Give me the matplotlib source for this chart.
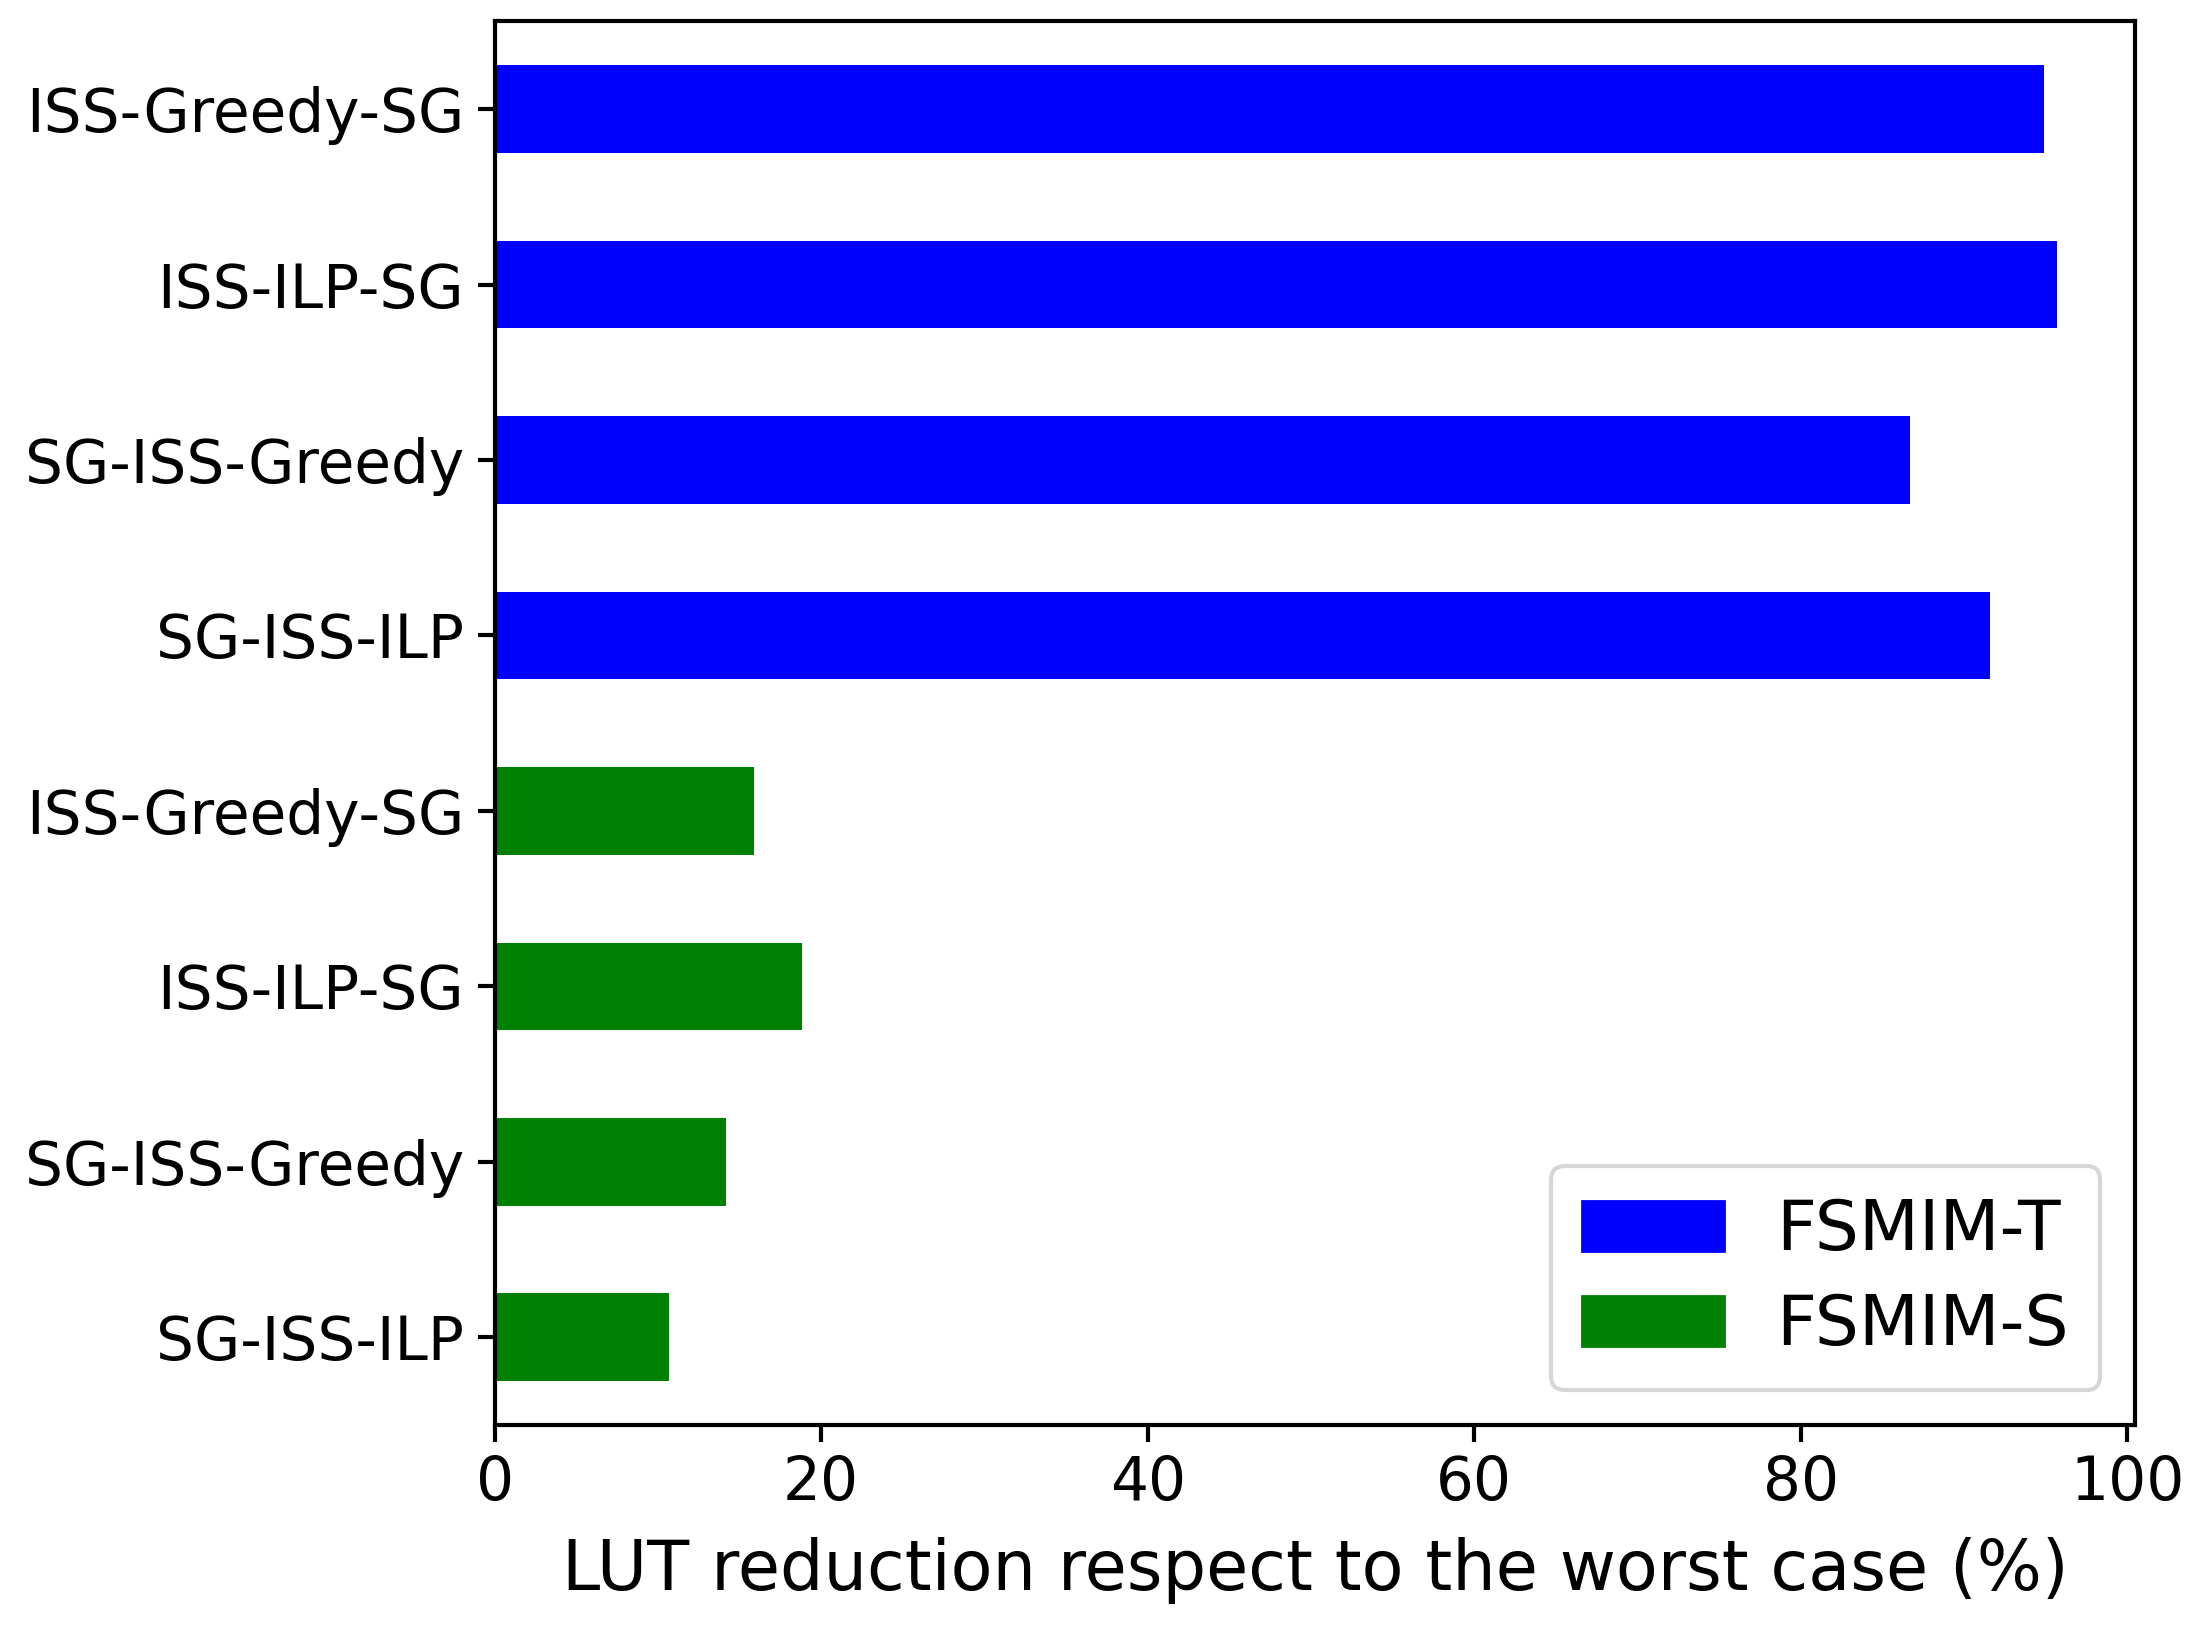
import matplotlib
matplotlib.use("Agg")
import matplotlib.pyplot as plt
from matplotlib.patches import Patch
import numpy as np

# Top-to-bottom order as shown in the chart
labels = ["ISS-Greedy-SG", "ISS-ILP-SG", "SG-ISS-Greedy", "SG-ISS-ILP",
          "ISS-Greedy-SG", "ISS-ILP-SG", "SG-ISS-Greedy", "SG-ISS-ILP"]
values = [94.9, 95.7, 86.7, 91.6, 15.9, 18.85, 14.2, 10.7]
groups = ["FSMIM-T"] * 4 + ["FSMIM-S"] * 4
group_colors = {"FSMIM-T": "blue", "FSMIM-S": "green"}

fig = plt.figure(figsize=(11.04, 8.19), dpi=200)
ax = fig.add_axes([0.224, 0.130, 0.743, 0.857])

n = len(labels)
pos = np.arange(n)[::-1]
ax.barh(pos, values, height=0.5, color=[group_colors[g] for g in groups])
ax.set_yticks(pos)
ax.set_yticklabels(labels)
ax.set_ylim(-0.5, n - 0.5)
ax.tick_params(labelsize=21.5, width=1.5, length=6)
ax.tick_params(axis="y", pad=5)
ax.tick_params(axis="x", pad=4.5)
for s in ax.spines.values():
    s.set_linewidth(1.5)
ax.set_xlabel("LUT reduction respect to the worst case (%)", fontsize=24.7, labelpad=8.5)

handles = [Patch(color=group_colors[g]) for g in ["FSMIM-T", "FSMIM-S"]]
leg = ax.legend(handles, ["FSMIM-T", "FSMIM-S"], loc="lower right", fontsize=25,
                handlelength=2.05, handleheight=0.73, borderpad=0.45, labelspacing=0.4,
                handletextpad=0.75)
leg.get_frame().set_linewidth(1.5)

fig.savefig("out.png", dpi=200)
